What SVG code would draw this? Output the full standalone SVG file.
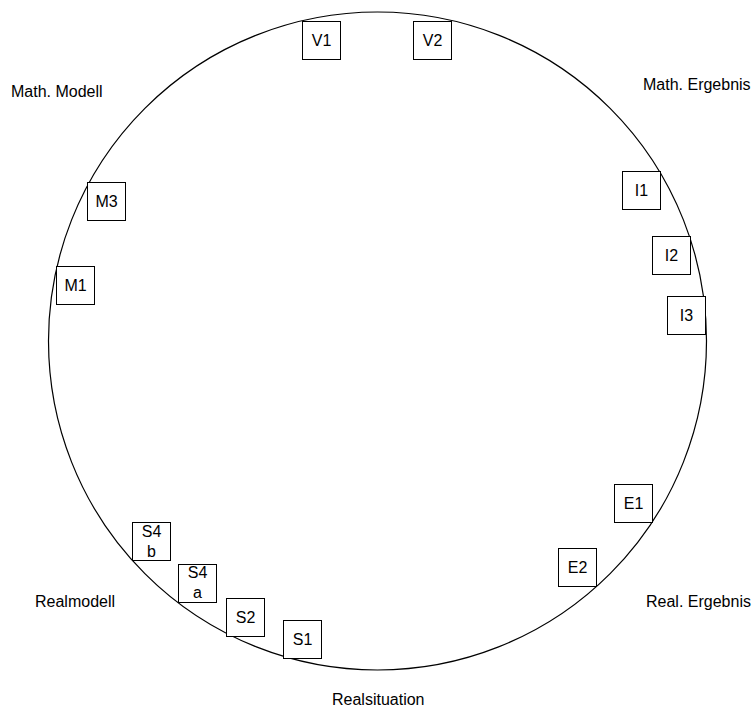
<svg xmlns="http://www.w3.org/2000/svg" width="752" height="709" viewBox="0 0 752 709">
<style>
.box{fill:#fff;stroke:#000;stroke-width:1}
text{font-family:"Liberation Sans",Arial,sans-serif;font-size:16px;fill:#000}
.c{text-anchor:middle}
.ring{fill:none;stroke:#000;stroke-width:1.2}
</style>
<rect width="752" height="709" fill="#fff"/>
<g id="connectors">
<circle class="ring" cx="377.5" cy="341" r="329"/>
</g>
<g id="label-math-modell"><text x="11" y="97">Math. Modell</text></g>
<g id="label-math-ergebnis"><text x="643" y="90">Math. Ergebnis</text></g>
<g id="label-realmodell"><text x="35" y="607">Realmodell</text></g>
<g id="label-real-ergebnis"><text x="646" y="607">Real. Ergebnis</text></g>
<g id="label-realsituation"><text x="332" y="705">Realsituation</text></g>
<g id="V1"><rect class="box" x="302.5" y="21.5" width="38" height="38"/><text class="c" x="321.5" y="46">V1</text></g>
<g id="V2"><rect class="box" x="413.5" y="21.5" width="38" height="38"/><text class="c" x="432.5" y="46">V2</text></g>
<g id="I1"><rect class="box" x="622.5" y="171.5" width="38" height="38"/><text class="c" x="641.5" y="196">I1</text></g>
<g id="I2"><rect class="box" x="652.5" y="236.5" width="38" height="38"/><text class="c" x="671.5" y="261">I2</text></g>
<g id="I3"><rect class="box" x="667.5" y="296.5" width="38" height="38"/><text class="c" x="686.5" y="321">I3</text></g>
<g id="M3"><rect class="box" x="87.5" y="182.5" width="38" height="38"/><text class="c" x="106.5" y="207">M3</text></g>
<g id="M1"><rect class="box" x="56.5" y="266.5" width="38" height="38"/><text class="c" x="75.5" y="291">M1</text></g>
<g id="E1"><rect class="box" x="614.5" y="484.5" width="38" height="38"/><text class="c" x="633.5" y="509">E1</text></g>
<g id="E2"><rect class="box" x="558.5" y="548.5" width="38" height="38"/><text class="c" x="577.5" y="573">E2</text></g>
<g id="S4b"><rect class="box" x="132.5" y="522.5" width="38" height="38"/><text class="c" x="151.5" y="537">S4</text><text class="c" x="151.5" y="556.5">b</text></g>
<g id="S4a"><rect class="box" x="178.5" y="564.5" width="38" height="38"/><text class="c" x="197.5" y="578">S4</text><text class="c" x="197.5" y="597.5">a</text></g>
<g id="S2"><rect class="box" x="226.5" y="598.5" width="38" height="38"/><text class="c" x="245.5" y="623">S2</text></g>
<g id="S1"><rect class="box" x="283.5" y="620.5" width="38" height="38"/><text class="c" x="302.5" y="645">S1</text></g>
</svg>
